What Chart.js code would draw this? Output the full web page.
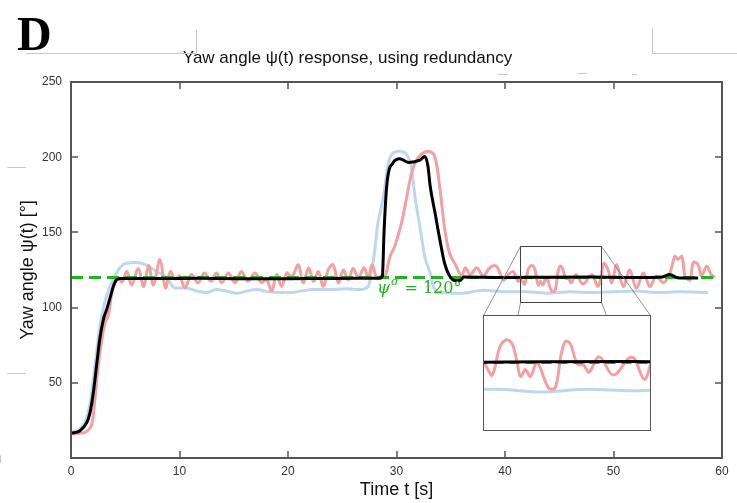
<!DOCTYPE html>
<html>
<head>
<meta charset="utf-8">
<script src="https://cdn.jsdelivr.net/npm/chart.js@4.4.0/dist/chart.umd.min.js"></script>
<style>
html,body{margin:0;padding:0;background:#fff;}
#wrap{position:relative;width:737px;height:503px;overflow:hidden;}
#main{position:absolute;left:0;top:0;}
#inset{position:absolute;}
</style>
</head>
<body>
<div id="wrap"><canvas id="main" width="737" height="503"></canvas><canvas id="inset"></canvas></div>
<script>
// ---------------- DATA ----------------
const xTicks = [0, 10, 20, 30, 40, 50, 60];
const yTicks = [50, 100, 150, 200, 250];

// desired yaw angle
const refT = [0, 59.5];
const refV = [120, 120];

// black: estimated / fused response
const blackT = [0, 0.8, 1.45, 1.75, 2.05, 2.35, 2.65, 2.98, 3.3, 3.6, 3.9, 4.2, 4.6, 8, 12, 16, 20, 24, 28.4, 28.7, 28.85, 29.1, 29.7, 30.3, 31.1, 32.15, 32.6, 32.9, 33.1, 33.55, 34.0, 34.45, 34.9, 35.4, 35.85, 36.2, 40, 44, 48, 52, 54.5, 55.2, 55.8, 56.5, 57.8];
const blackV = [16.5, 18, 23.5, 30, 43, 61, 79, 92, 99, 106.5, 114, 118.5, 119.3, 119.3, 119.5, 119.2, 119.2, 119.4, 119.5, 121, 150, 181, 196.5, 199, 196.5, 198, 200.5, 194, 181, 163, 145, 129, 121, 118, 118, 120.3, 120, 120.2, 120.3, 120, 120.4, 122, 120, 119.6, 119.6];

// light blue
const blueT = [0, 0.8, 1.4, 1.75, 2.05, 2.35, 2.65, 3.0, 3.3, 3.6, 4.05, 4.5, 5.1, 6.05, 7.0, 7.9, 8.8, 9.6, 10.6, 11.6, 12.5, 13.4, 14.3, 15.3, 16.2, 17.1, 18.2, 19.3, 20.2, 21.2, 22.3, 24.0, 25.4, 26.6, 27.4, 27.72, 28.0, 28.2, 28.8, 29.25, 29.7, 30.3, 30.9, 31.4, 31.7, 32.2, 32.6, 33.1, 33.4, 34.0, 36, 38, 40, 42, 44, 46, 48, 50, 52, 54, 56, 58.7];
const blueV = [17, 19, 26, 36, 52, 70, 87, 100, 108, 114, 121, 126.5, 129.5, 130, 128, 124, 120, 113, 113, 111, 110, 112, 111, 109.5, 111, 112, 110.5, 110, 110, 111, 112, 112, 112.5, 112, 114, 125, 138, 152, 174, 196, 203, 204, 202, 192, 174, 152, 134, 123, 114, 110, 109.5, 111.5, 110.5, 110.5, 109.5, 110.5, 110, 110.5, 111, 110, 110.5, 110];

// light red
const redT = [0, 0.8, 1.4, 1.9, 2.2, 2.5, 2.85, 3.15, 3.45, 3.75, 4.05, 4.4, 4.7, 5.15, 5.6, 6.2, 6.7, 7.15, 7.6, 8.2, 8.7, 9.15, 9.6, 10.0, 10.5, 11.1, 11.7, 12.3, 12.9, 13.4, 13.9, 14.5, 15.1, 15.7, 16.3, 16.95, 17.55, 18.0, 18.5, 18.95, 19.4, 19.9, 20.35, 20.95, 21.4, 21.9, 22.35, 22.8, 23.25, 23.7, 24.15, 24.65, 25.1, 25.55, 26.0, 26.5, 27.0, 27.4, 27.75, 28.2, 28.6, 28.95, 29.4, 29.85, 30.45, 30.8, 31.25, 31.7, 32.3, 32.9, 33.5, 34.0, 34.45, 34.9, 35.5, 36.0, 36.35, 36.8, 37.4, 38.0, 38.6, 39.2, 39.85, 40.3, 40.75, 41.2, 41.45, 41.8, 42.15, 42.45, 42.7, 42.9, 43.06, 43.28, 43.5, 43.8, 44.3, 44.6, 44.87, 45.06, 45.28, 45.58, 45.87, 46.1, 46.55, 47.18, 47.87, 48.1, 48.55, 48.85, 49.1, 49.5, 49.85, 50.3, 50.9, 51.5, 52.1, 52.75, 53.35, 53.95, 54.6, 55.2, 55.65, 55.95, 56.3, 56.6, 57.05, 57.35, 57.8, 58.1, 58.6, 59.0, 59.35];
const redV = [16, 16.5, 17.5, 22, 39, 61, 79, 90, 95, 109, 117.5, 120, 117, 124, 115, 126, 114, 128, 115, 132, 113, 124, 119, 121, 113, 122, 116.5, 123, 117.5, 123, 116.5, 123, 116.5, 124, 117.5, 123, 116.5, 119, 111, 122, 114, 123, 120.5, 128.5, 116.5, 126.5, 117.5, 124, 114, 125, 128.5, 116.5, 125, 118.5, 126, 120, 126.5, 120, 128.5, 119.5, 121, 121, 134, 141, 156, 168, 185, 196, 202, 204, 201, 179, 152, 136, 127.5, 121, 126.5, 122, 126.5, 121, 126.5, 127.5, 118.5, 122, 124, 117.5, 119.5, 115.5, 125.5, 128, 126.5, 120.5, 115, 117.5, 115, 120, 111, 111, 123, 127.5, 126.5, 119.5, 119, 116.5, 122, 115.5, 121.5, 121.5, 114, 120, 129.5, 125, 116.5, 128.5, 114, 125, 113, 123, 114, 121, 116.5, 123, 134, 132, 134, 121, 118.5, 130, 128.5, 121, 127.5, 122, 120];

// zoomed window shown in the inset (data units)
const zoomT = [41.4, 48.85];
const zoomV = [104, 140.7];
const insetV = [95.7, 136.8];

// ---------------- LAYOUT / STYLE ----------------
const INSET = {left: 483, top: 315, width: 168, height: 116};
const NOTE = {t: 28.2, v: 109.7};
const TITLE_CENTER_X = 347.5;
const COL = {black: '#000000', red: '#f5a0a0', blue: '#bdd7ee', green: '#21b321', axis: '#555555'};

Chart.defaults.font.family = '"Liberation Sans", Arial, sans-serif';
Chart.defaults.color = '#222';

const pts = (T, V) => T.map((t, i) => ({x: t, y: V[i]}));
function makeDatasets(dash) {
  return [
    {label: 'estimate', data: pts(blackT, blackV), borderColor: COL.black, borderWidth: 3, order: 0, cubicInterpolationMode: 'monotone'},
    {label: 'desired', data: pts(refT, refV), borderColor: COL.green, borderWidth: 3, borderDash: dash, order: 1, tension: 0},
    {label: 'sensor A', data: pts(redT, redV), borderColor: COL.red, borderWidth: 3, order: 2, tension: 0.35},
    {label: 'sensor B', data: pts(blueT, blueV), borderColor: COL.blue, borderWidth: 3, order: 3, cubicInterpolationMode: 'monotone'}
  ].map(d => Object.assign({pointRadius: 0, fill: false}, d));
}

function seg(ctx, x1, y1, x2, y2) { ctx.beginPath(); ctx.moveTo(x1, y1); ctx.lineTo(x2, y2); ctx.stroke(); }

const mainDecor = {
  id: 'mainDecor',
  afterLayout(chart) {
    if (chart.titleBlock) { chart.titleBlock.left = 0; chart.titleBlock.right = 2 * TITLE_CENTER_X; }
  },
  afterDatasetsDraw(chart) {
    const {ctx, scales: {x, y}} = chart;
    ctx.save();
    const bx0 = Math.round(x.getPixelForValue(zoomT[0])) + 0.5, bx1 = Math.round(x.getPixelForValue(zoomT[1])) + 0.5;
    const by0 = Math.round(y.getPixelForValue(zoomV[1])) + 0.5, by1 = Math.round(y.getPixelForValue(zoomV[0])) + 0.5;
    ctx.strokeStyle = '#444'; ctx.lineWidth = 1;
    ctx.strokeRect(bx0, by0, bx1 - bx0, by1 - by0);
    ctx.strokeStyle = '#777'; ctx.lineWidth = 0.8;
    seg(ctx, bx0, by0, INSET.left + 0.5, INSET.top + 0.5);
    seg(ctx, bx1, by0, INSET.left + INSET.width - 0.5, INSET.top + 0.5);
    seg(ctx, bx0, by1, bx0 - 2.5, INSET.top + 0.5);
    seg(ctx, bx1, by1, bx1 + 5, INSET.top + 0.5);
    // annotation psi^d = 120°
    const ax = x.getPixelForValue(NOTE.t), ay = y.getPixelForValue(NOTE.v);
    ctx.fillStyle = COL.green; ctx.textAlign = 'left'; ctx.textBaseline = 'alphabetic';
    ctx.font = 'italic 17px "DejaVu Serif", serif';
    ctx.fillText('ψ', ax, ay);
    let w = ctx.measureText('ψ').width + 1;
    ctx.font = 'italic 11px "DejaVu Serif", serif';
    ctx.fillText('d', ax + w, ay - 8);
    w += ctx.measureText('d').width + 1;
    ctx.font = '16px "DejaVu Serif", serif';
    ctx.fillText(' = 120°', ax + w, ay);
    ctx.restore();
  },
  afterDraw(chart) {
    const {ctx, chartArea: ca, scales: {x, y}} = chart;
    ctx.save();
    const L = ca.left, R = ca.right, T = ca.top, B = ca.bottom;
    ctx.strokeStyle = COL.axis; ctx.lineWidth = 2;
    ctx.strokeRect(L, T, R - L, B - T);
    ctx.lineWidth = 1.5;
    xTicks.forEach(v => {
      if (v === xTicks[0] || v === xTicks[xTicks.length - 1]) return;
      const px = Math.round(x.getPixelForValue(v));
      seg(ctx, px, B, px, B - 7); seg(ctx, px, T, px, T + 7);
    });
    yTicks.forEach(v => {
      if (v === yTicks[yTicks.length - 1]) return;
      const py = Math.round(y.getPixelForValue(v));
      seg(ctx, L, py, L + 7, py); seg(ctx, R, py, R - 7, py);
    });
    // panel letter
    ctx.fillStyle = '#000'; ctx.font = 'bold 48px "Liberation Serif", serif';
    ctx.textAlign = 'left'; ctx.textBaseline = 'alphabetic';
    ctx.fillText('D', 17, 50);
    // faint frame fragments around the figure
    ctx.strokeStyle = '#c6c6c6'; ctx.lineWidth = 1;
    [[26, 53.5, 196, 53.5], [196.5, 30, 196.5, 53], [652.5, 28, 652.5, 53], [652, 53.5, 737, 53.5],
     [7, 167.5, 26, 167.5], [7, 373.5, 26, 373.5], [0.5, 455, 0.5, 463],
     [498, 74.5, 508, 74.5], [578, 73.5, 587, 73.5], [632, 74.5, 637, 74.5]].forEach(s => seg(ctx, s[0], s[1], s[2], s[3]));
    ctx.restore();
  }
};

new Chart(document.getElementById('main'), {
  type: 'line',
  data: {datasets: makeDatasets([12, 6])},
  options: {
    responsive: false, devicePixelRatio: 1, animation: false,
    layout: {padding: {top: 0, left: 0, right: 15, bottom: 0}},
    plugins: {
      legend: {display: false}, tooltip: {enabled: false},
      title: {display: true, text: 'Yaw angle ψ(t) response, using redundancy',
        font: {size: 17, weight: 'normal'}, color: '#111', padding: {top: 48, bottom: 13.6}}
    },
    scales: {
      x: {type: 'linear', min: xTicks[0], max: xTicks[xTicks.length - 1],
        afterBuildTicks: s => { s.ticks = xTicks.map(v => ({value: v})); },
        afterFit: s => { s.height = 45; },
        ticks: {autoSkip: false, maxRotation: 0, font: {size: 12}, color: '#333', padding: 6},
        grid: {display: false, drawTicks: false}, border: {display: false},
        title: {display: true, text: 'Time t [s]', font: {size: 18}, color: '#111', padding: {top: 0, bottom: 2}}},
      y: {type: 'linear', min: 0, max: yTicks[yTicks.length - 1],
        afterBuildTicks: s => { s.ticks = yTicks.map(v => ({value: v})); },
        afterFit: s => { s.width = 71; },
        ticks: {font: {size: 12}, color: '#333', padding: 9},
        grid: {display: false, drawTicks: false}, border: {display: false},
        title: {display: true, text: 'Yaw angle ψ(t) [°]', font: {size: 18}, color: '#111', padding: {top: 17, bottom: 0}}}
    }
  },
  plugins: [mainDecor]
});

// ---------------- INSET ----------------
const insetCanvas = document.getElementById('inset');
insetCanvas.width = INSET.width; insetCanvas.height = INSET.height;
insetCanvas.style.left = INSET.left + 'px'; insetCanvas.style.top = INSET.top + 'px';
const insetFrame = {
  id: 'insetFrame',
  beforeDraw(chart) { const c = chart.ctx; c.save(); c.fillStyle = '#fff'; c.fillRect(0, 0, chart.width, chart.height); c.restore(); },
  afterDraw(chart) { const c = chart.ctx; c.save(); c.strokeStyle = '#555'; c.lineWidth = 1; c.strokeRect(0.5, 0.5, chart.width - 1, chart.height - 1); c.restore(); }
};
new Chart(insetCanvas, {
  type: 'line',
  data: {datasets: makeDatasets([10, 6])},
  options: {
    responsive: false, devicePixelRatio: 1, animation: false,
    layout: {padding: 0},
    plugins: {legend: {display: false}, tooltip: {enabled: false}, title: {display: false}},
    scales: {
      x: {type: 'linear', display: false, min: zoomT[0], max: zoomT[1]},
      y: {type: 'linear', display: false, min: insetV[0], max: insetV[1]}
    }
  },
  plugins: [insetFrame]
});
</script>
</body>
</html>
